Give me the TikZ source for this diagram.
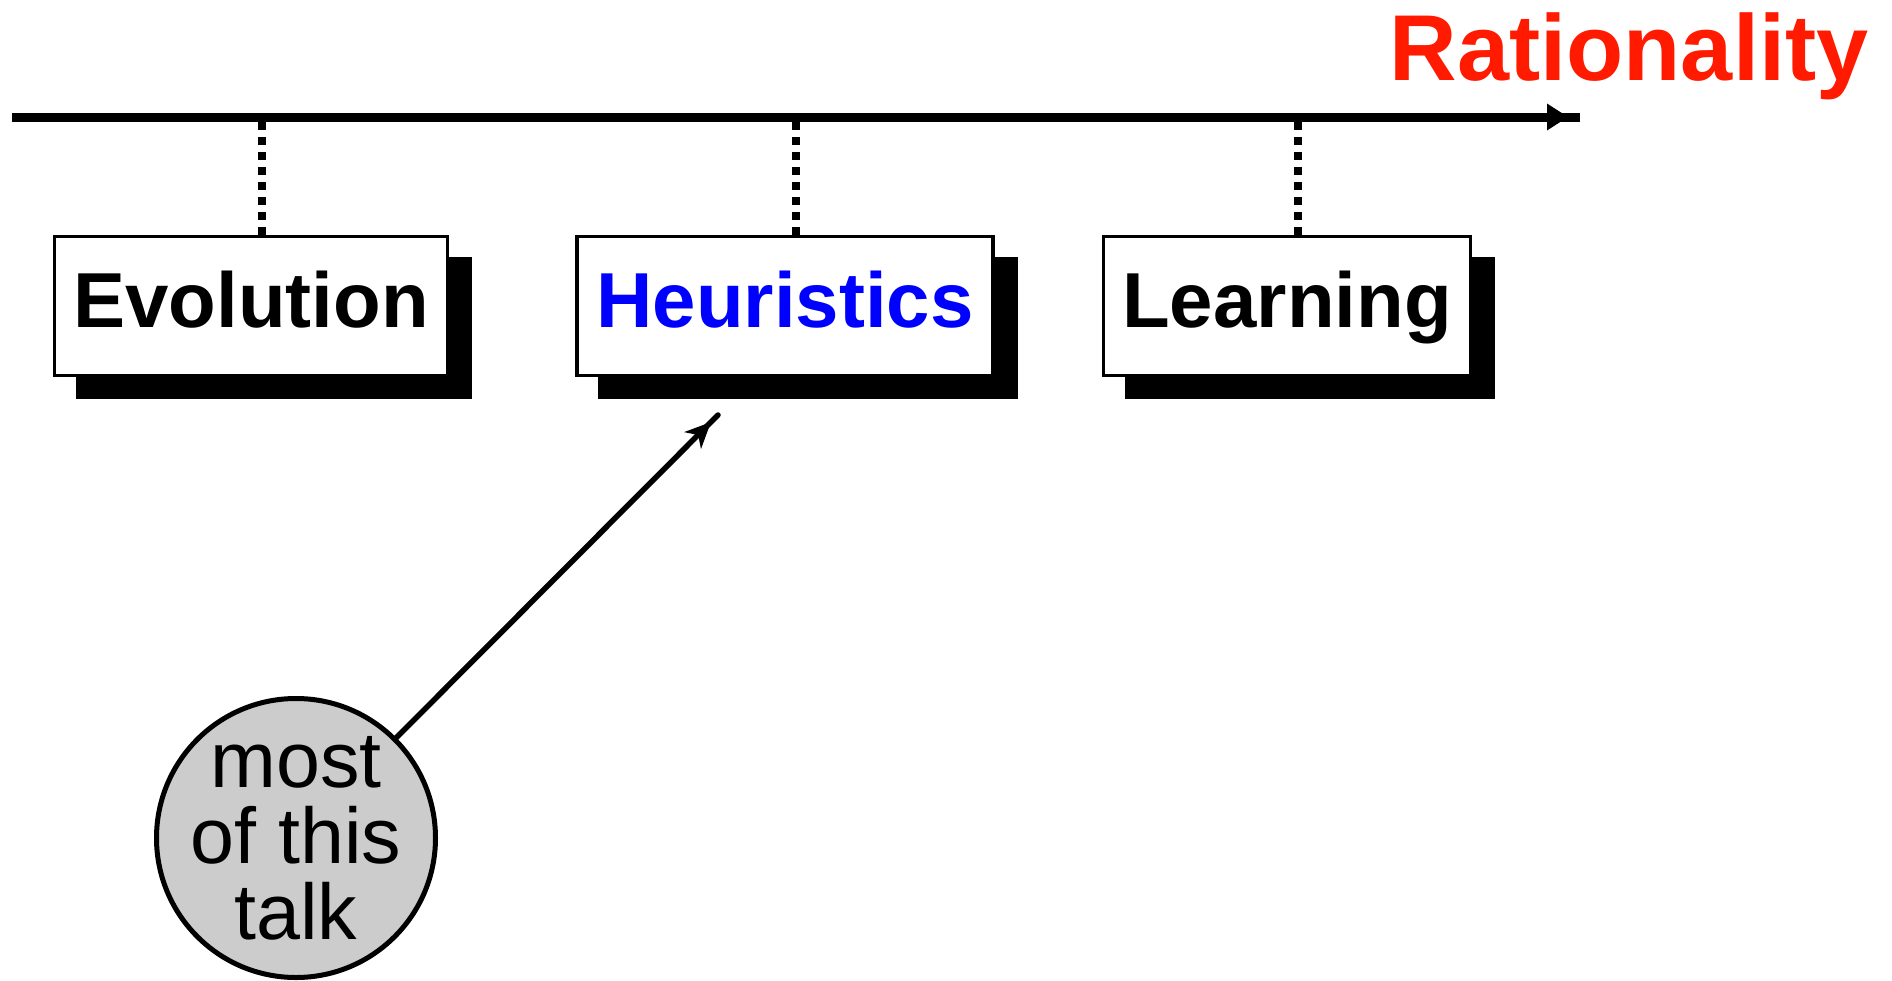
\documentclass[tikz,border=0pt]{standalone}
\usepackage{fontspec}
\setmainfont{Liberation Sans}
\usetikzlibrary{arrows.meta,shadows,decorations.markings}

\definecolor{ratred}{RGB}{255,26,0}
\definecolor{heurblue}{RGB}{0,0,255}

\begin{document}
\begin{tikzpicture}[x=1pt,y=-1pt,
  topic/.style={draw=black, line width=3.5pt, fill=white, inner sep=0pt,
    minimum height=139pt, text height=56pt, text depth=14pt,
    font=\fontsize{78}{80}\selectfont\bfseries,
    drop shadow={shadow xshift=23pt, shadow yshift=-22pt, fill=black,
      draw=black, opacity=1}},
  axisline/.style={line width=9pt, postaction={decorate},
    decoration={markings, mark=at position -12pt with
      {\arrow{Triangle[length=21pt,width=27pt,line width=0pt]}}}},
  tie/.style={line width=8pt, dash pattern=on 8pt off 7pt},
  talkcircle/.style={circle, draw=black, line width=5pt, fill=gray!40,
    minimum size=279pt, inner sep=-20pt, align=center,
    font=\fontsize{79}{76}\selectfont},
  pointer/.style={line width=5.5pt, line cap=round, postaction={decorate},
    decoration={markings, mark=at position -10pt with
      {\arrow{Stealth[length=26pt,width=24pt,inset=8pt,line width=0pt]}}}},
  title/.style={inner sep=0pt, anchor=base, text=ratred,
    font=\fontsize{93.6}{95}\selectfont\bfseries}
]
\useasboundingbox (0,0) rectangle (1892,980);

% axis with its title
\coordinate (axL) at (12,117);
\coordinate (axR) at (1580,117);
\draw[axisline] (axL) -- (axR);
\node[title] (rat) at (1629,80) {Rationality};

% the three topics
\node[topic, minimum width=393pt] (evo) at (251,306) {Evolution};
\node[topic, minimum width=416pt, text=heurblue] (heu) at (785,306) {Heuristics};
\node[topic, minimum width=367pt] (lea) at (1287,306) {Learning};

% ties from the topics up to the axis
\foreach \b in {evo,heu,lea}
  \draw[tie] ([xshift=11pt]\b.north) -- ([xshift=11pt]\b.north |- axL);

% callout
\node[talkcircle] (talk) at (296,838) {most\\of this\\talk};
\coordinate (hend) at (718,415);
\draw[pointer] (talk.45) -- (hend);
\end{tikzpicture}
\end{document}
